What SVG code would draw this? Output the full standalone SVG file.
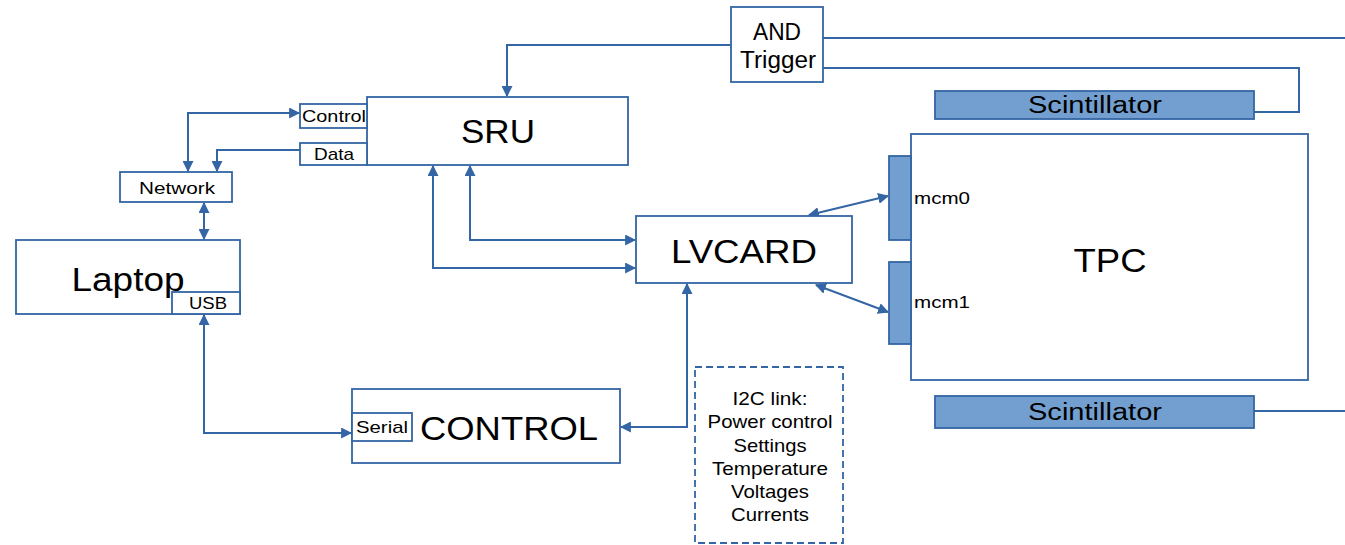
<svg xmlns="http://www.w3.org/2000/svg" width="1345" height="545" viewBox="0 0 1345 545">
<defs>
<marker id="ah" viewBox="0 0 10 10" refX="9" refY="5" markerWidth="5.5" markerHeight="5.5" orient="auto-start-reverse" markerUnits="strokeWidth">
<path d="M0,0 L10,5 L0,10 z" fill="#3465a4"/>
</marker>
<style>
.box{fill:#fff;stroke:#3465a4;stroke-width:1.8}
.blue{fill:#729fcf;stroke:#3465a4;stroke-width:1.8}
.dash{fill:#fff;stroke:#3465a4;stroke-width:1.8;stroke-dasharray:7 4}
.ln{fill:none;stroke:#3465a4;stroke-width:2}
.ar{fill:none;stroke:#3465a4;stroke-width:2;marker-end:url(#ah)}
.ar2{fill:none;stroke:#3465a4;stroke-width:2;marker-start:url(#ah);marker-end:url(#ah)}
text{font-family:"Liberation Sans",Arial,sans-serif;fill:#000;text-anchor:middle;dominant-baseline:central}
.big{font-size:33px}
.med{font-size:23px}
.sm{font-size:17px}
.i2c{font-size:19px}
</style>
</defs>
<rect width="1345" height="545" fill="#fff"/>
<g id="connectors">
<path class="ar" d="M731,45 H507 V96"/>
<path class="ln" d="M823,38 H1345"/>
<path class="ln" d="M823,68 H1299 V112 H1254"/>
<path class="ln" d="M1254,411 H1345"/>
<path class="ar2" d="M299,113 H188 V171"/>
<path class="ar" d="M300,150 H217 V171"/>
<path class="ar2" d="M204,203 V239"/>
<path class="ar2" d="M204,315 V433 H351"/>
<path class="ar2" d="M433,166 V268 H635"/>
<path class="ar2" d="M470,166 V240 H635"/>
<path class="ar2" d="M621,427 H687 V284"/>
<path class="ar2" d="M809,215 L888,196"/>
<path class="ar2" d="M816,285 L888,312"/>
</g>
<g id="and-trigger">
<rect class="box" x="731" y="7" width="92" height="75"/>
<text class="med" x="777" y="32" textLength="48" lengthAdjust="spacingAndGlyphs">AND</text>
<text class="med" x="778" y="60" textLength="76" lengthAdjust="spacingAndGlyphs">Trigger</text>
</g>
<g id="scint-top">
<rect class="blue" x="935" y="91" width="319" height="28"/>
<text class="med" x="1095" y="105" textLength="134" lengthAdjust="spacingAndGlyphs">Scintillator</text>
</g>
<g id="tpc">
<rect class="box" x="911" y="134" width="397" height="246"/>
<text class="big" x="1110" y="260" textLength="73" lengthAdjust="spacingAndGlyphs">TPC</text>
</g>
<g id="mcm0">
<rect class="blue" x="889" y="156" width="22" height="84"/>
<text class="sm" x="914" y="198" style="text-anchor:start" textLength="56" lengthAdjust="spacingAndGlyphs">mcm0</text>
</g>
<g id="mcm1">
<rect class="blue" x="889" y="262" width="22" height="82"/>
<text class="sm" x="914" y="302" style="text-anchor:start" textLength="56" lengthAdjust="spacingAndGlyphs">mcm1</text>
</g>
<g id="scint-bottom">
<rect class="blue" x="935" y="396" width="319" height="32"/>
<text class="med" x="1095" y="412" textLength="134" lengthAdjust="spacingAndGlyphs">Scintillator</text>
</g>
<g id="sru">
<rect class="box" x="367" y="97" width="261" height="68"/>
<text class="big" x="498" y="131" textLength="74" lengthAdjust="spacingAndGlyphs">SRU</text>
</g>
<g id="control-port">
<rect class="box" x="300" y="104" width="67" height="24"/>
<text class="sm" x="334" y="116" textLength="64" lengthAdjust="spacingAndGlyphs">Control</text>
</g>
<g id="data-port">
<rect class="box" x="300" y="143" width="67" height="22"/>
<text class="sm" x="334" y="154" textLength="40" lengthAdjust="spacingAndGlyphs">Data</text>
</g>
<g id="network">
<rect class="box" x="120" y="172" width="112" height="30"/>
<text class="sm" x="177" y="188" textLength="76" lengthAdjust="spacingAndGlyphs">Network</text>
</g>
<g id="laptop">
<rect class="box" x="16" y="240" width="224" height="74"/>
<text class="big" x="128" y="279" textLength="113" lengthAdjust="spacingAndGlyphs">Laptop</text>
<rect class="box" x="172" y="292" width="68" height="22"/>
<text class="sm" x="208" y="303" textLength="38" lengthAdjust="spacingAndGlyphs">USB</text>
</g>
<g id="lvcard">
<rect class="box" x="636" y="216" width="216" height="67"/>
<text class="big" x="744" y="251" textLength="146" lengthAdjust="spacingAndGlyphs">LVCARD</text>
</g>
<g id="control">
<rect class="box" x="352" y="389" width="268" height="74"/>
<rect class="box" x="352" y="413" width="60" height="28"/>
<text class="sm" x="382" y="427" textLength="52" lengthAdjust="spacingAndGlyphs">Serial</text>
<text class="big" x="509" y="428" textLength="178" lengthAdjust="spacingAndGlyphs">CONTROL</text>
</g>
<g id="i2c-note">
<rect class="dash" x="695" y="367" width="148" height="176"/>
<text class="i2c" x="770" y="398" textLength="75" lengthAdjust="spacingAndGlyphs">I2C link:</text>
<text class="i2c" x="770" y="421" textLength="125" lengthAdjust="spacingAndGlyphs">Power control</text>
<text class="i2c" x="770" y="445" textLength="73" lengthAdjust="spacingAndGlyphs">Settings</text>
<text class="i2c" x="770" y="468" textLength="116" lengthAdjust="spacingAndGlyphs">Temperature</text>
<text class="i2c" x="770" y="491" textLength="78" lengthAdjust="spacingAndGlyphs">Voltages</text>
<text class="i2c" x="770" y="514" textLength="78" lengthAdjust="spacingAndGlyphs">Currents</text>
</g>
</svg>
